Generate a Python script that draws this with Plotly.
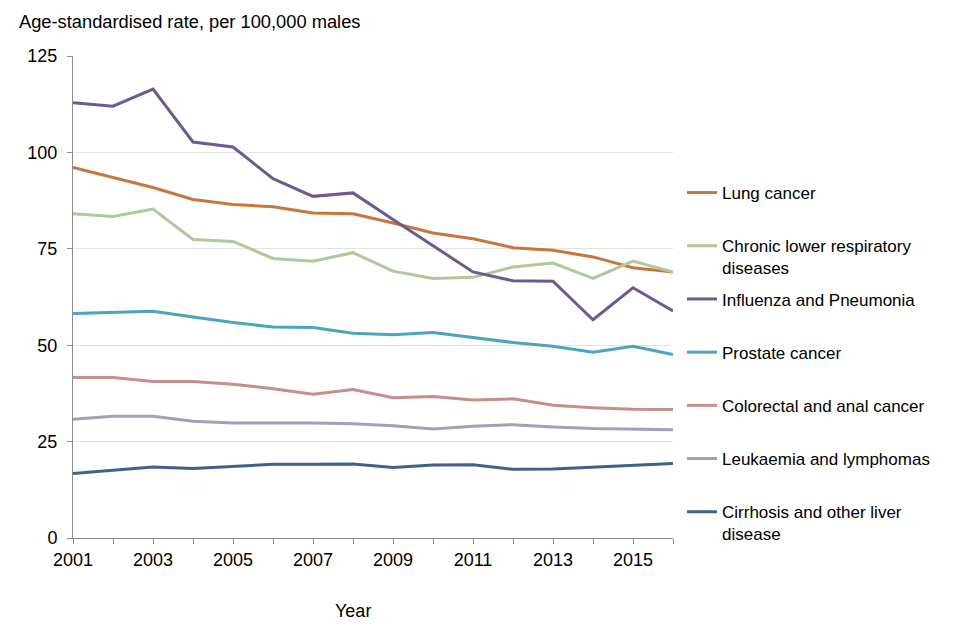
import plotly.graph_objects as go

years = list(range(2001, 2017))

lung_cancer = [96.1, 93.5, 90.9, 87.8, 86.5, 85.9, 84.3, 84.1, 81.7, 79.1, 77.6, 75.3, 74.6, 72.9, 70.1, 69.0]
chronic_lower_resp = [84.1, 83.4, 85.3, 77.4, 76.9, 72.5, 71.8, 74.0, 69.2, 67.3, 67.6, 70.3, 71.3, 67.3, 71.8, 69.0]
influenza_pneumonia = [112.9, 112.0, 116.4, 102.7, 101.4, 93.2, 88.6, 89.5, 82.6, 75.8, 69.0, 66.7, 66.6, 56.6, 64.9, 58.9]
prostate_cancer = [58.2, 58.5, 58.8, 57.3, 55.9, 54.7, 54.6, 53.1, 52.7, 53.3, 52.0, 50.7, 49.7, 48.2, 49.7, 47.6]
colorectal_anal = [41.6, 41.6, 40.6, 40.6, 39.9, 38.7, 37.3, 38.5, 36.4, 36.7, 35.8, 36.1, 34.4, 33.8, 33.4, 33.3]
leukaemia_lymph = [30.8, 31.6, 31.6, 30.3, 29.8, 29.8, 29.8, 29.6, 29.1, 28.3, 29.0, 29.4, 28.8, 28.4, 28.2, 28.1]
cirrhosis_liver = [16.7, 17.5, 18.4, 18.0, 18.6, 19.1, 19.1, 19.2, 18.3, 18.9, 19.0, 17.8, 17.9, 18.4, 18.8, 19.3]

series_names = [
    "Lung cancer<br> ",
    "Chronic lower respiratory<br>diseases",
    "Influenza and Pneumonia<br> ",
    "Prostate cancer<br> ",
    "Colorectal and anal cancer<br> ",
    "Leukaemia and lymphomas<br> ",
    "Cirrhosis and other liver<br>disease",
]
series_values = [lung_cancer, chronic_lower_resp, influenza_pneumonia, prostate_cancer,
                 colorectal_anal, leukaemia_lymph, cirrhosis_liver]
colors = ["#C8773C", "#B2C89A", "#6D5A92", "#4DA5BB", "#C58F8B", "#A59EBB", "#3F628B"]

tick_years = [2001, 2003, 2005, 2007, 2009, 2011, 2013, 2015]
y_ticks = [0, 25, 50, 75, 100, 125]

FONT = "Liberation Sans, Arial, sans-serif"

fig = go.Figure()
for name, vals, col in zip(series_names, series_values, colors):
    fig.add_trace(go.Scatter(
        x=years, y=vals, mode="lines", name=name,
        line=dict(color=col, width=3),
        legendgroup=name,
    ))

fig.update_layout(
    width=960, height=640,
    paper_bgcolor="white", plot_bgcolor="white",
    margin=dict(l=65, r=295, t=48, b=110),
    font=dict(family=FONT, size=17, color="black"),
    title=dict(text="Age-standardised rate, per 100,000 males", x=11/960, xanchor="left",
               xref="container", y=1 - 14/640, yref="container", yanchor="middle",
               font=dict(family=FONT, size=18.3, color="black")),
    legend=dict(x=(674 - 65)/600, xanchor="left", y=1 - (167 - 48)/482, yanchor="top",
                valign="top", tracegroupgap=6, font=dict(family=FONT, size=17, color="black"),
                bgcolor="rgba(0,0,0,0)"),
    showlegend=True,
)

fig.update_xaxes(
    range=[2001, 2016], tickvals=tick_years, ticktext=[str(y) for y in tick_years],
    ticks="outside", ticklen=5, tickcolor="#8C8C8C",
    showline=True, linecolor="#8C8C8C", linewidth=1, showgrid=False, zeroline=False,
    minor=dict(dtick=1, tick0=2001, ticks="outside", ticklen=5, tickcolor="#8C8C8C", showgrid=False),
    tickfont=dict(family=FONT, size=18, color="black"),
)
fig.update_yaxes(
    range=[0, 125], tickvals=y_ticks, ticks="outside", ticklen=5, tickcolor="#8C8C8C",
    showline=True, linecolor="#8C8C8C", linewidth=1,
    showgrid=True, gridcolor="#E3E3E3", gridwidth=1, zeroline=False,
    ticklabelstandoff=6,
    tickfont=dict(family=FONT, size=18, color="black"),
)

fig.add_annotation(text="Year", xref="paper", yref="paper", x=(345 - 65)/600, y=-(603 - 530)/482,
                   showarrow=False, xanchor="center", yanchor="middle",
                   font=dict(family=FONT, size=18, color="black"))

fig.write_html("out.html")
